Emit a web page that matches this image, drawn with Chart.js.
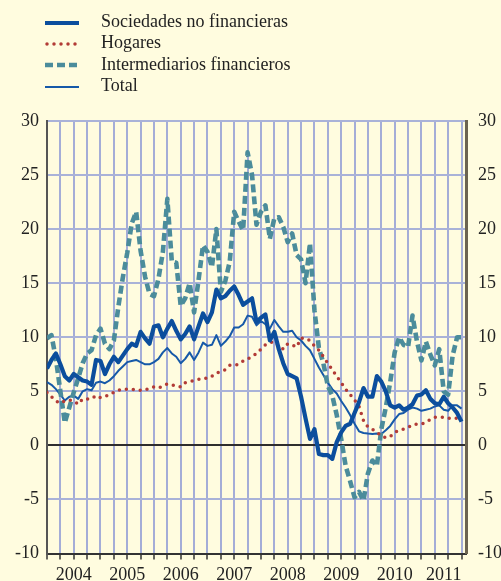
<!DOCTYPE html>
<html>
<head>
<meta charset="utf-8">
<script src="https://cdn.jsdelivr.net/npm/chart.js@4.4.1/dist/chart.umd.min.js"></script>
<style>
  html, body { margin: 0; padding: 0; background: #fffcdf; }
  #wrap { position: relative; width: 501px; height: 581px; overflow: hidden; }
  #chart { position: absolute; left: 0; top: 0; }
  #legend { position: absolute; left: 45px; top: 11px; font: 18px "Liberation Serif", serif; color: #222; }
  #legend div { height: 21.3px; line-height: 21.3px; white-space: nowrap; }
  #legend svg { vertical-align: middle; margin-right: 22px; }
</style>
</head>
<body>
<div id="wrap">
  <canvas id="chart" width="501" height="581"></canvas>
  <div id="legend"></div>
</div>
<script>
// Monthly series, Jan 2004 .. Oct 2011 (index 0 = Jan 2004)
const years = ["2004", "2005", "2006", "2007", "2008", "2009", "2010", "2011"];
const names = ["Sociedades no financieras", "Hogares", "Intermediarios financieros", "Total"];

const sociedades = [
  7.1, 7.9, 8.5, 7.5, 6.4, 6.0, 6.6, 6.3, 6.0, 5.9, 5.6, 7.9,
  7.8, 6.6, 7.5, 8.2, 7.7, 8.3, 8.9, 9.4, 9.2, 10.5, 9.9, 9.4,
  11.0, 11.1, 10.0, 10.8, 11.5, 10.6, 9.8, 10.3, 11.0, 9.8, 11.0, 12.2,
  11.4, 12.3, 14.4, 13.6, 13.8, 14.3, 14.7, 13.9, 13.0, 13.3, 13.6, 11.4,
  11.8, 12.1, 9.7, 10.5, 8.9, 7.6, 6.6, 6.4, 6.2, 4.5, 2.5, 0.6,
  1.5, -0.8, -0.9, -0.9, -1.25, 0.3, 1.2, 1.8, 2.0, 3.0, 4.0, 5.3,
  4.5, 4.5, 6.4, 5.9, 5.0, 3.7, 3.5, 3.7, 3.3, 3.5, 3.8, 4.6,
  4.7, 5.1, 4.3, 3.9, 3.8, 4.5, 3.9, 3.5, 3.0, 2.2
];
const hogares = [
  4.9, 4.5, 4.1, 3.9, 4.1, 4.2, 4.1, 3.8, 4.3, 4.3, 4.3, 4.6,
  4.4, 4.5, 4.7, 4.9, 5.1, 5.2, 5.2, 5.2, 5.1, 5.1, 5.1, 5.3,
  5.4, 5.3, 5.5, 5.7, 5.6, 5.5, 5.4, 5.8, 5.9, 6.0, 6.1, 6.2,
  6.2, 6.4, 6.7, 6.8, 7.0, 7.4, 7.4, 7.5, 7.8, 8.0, 8.2, 8.5,
  8.9, 9.3, 9.5, 9.6, 9.2, 8.9, 9.4, 9.3, 9.1, 9.9, 9.9, 9.7,
  9.2, 8.8, 8.2, 7.6, 7.0, 6.4, 5.8, 5.2, 4.7, 4.2, 3.6, 2.3,
  1.7, 1.5, 1.2, 0.9, 0.7, 0.8, 1.2, 1.4, 1.5, 1.7, 1.8, 2.0,
  2.0, 2.1, 2.4, 2.6, 2.6, 2.6, 2.5, 2.5, 2.5, 2.3
];
const intermediarios = [
  9.9, 10.2, 8.0, 5.0, 2.1, 3.5, 4.9, 6.2, 7.6, 8.5, 8.8, 10.2,
  10.8, 9.4, 8.9, 9.7, 12.8, 15.5, 17.8, 20.5, 21.6, 18.0, 15.6, 14.0,
  13.8, 15.4, 17.9, 22.8, 17.0, 16.9, 12.9, 13.6, 15.0, 12.3, 15.3, 18.5,
  17.9, 16.5, 20.0, 14.2, 15.2, 17.0, 21.6, 20.7, 19.9, 27.1, 25.0, 20.4,
  21.6, 22.2, 19.1, 21.0, 21.1, 20.2, 18.8, 19.6, 17.6, 17.2, 15.0, 18.7,
  12.5, 9.0, 7.6, 5.5, 4.6, 2.8, 0.6, -1.9, -3.3, -4.8, -4.3, -5.1,
  -2.6, -1.4, -1.9, 1.5, 3.5, 5.85, 8.6, 10.0, 9.3, 9.1, 12.0, 9.6,
  7.85, 9.6, 8.4, 7.4, 8.9, 5.0, 4.7, 8.3, 10.0, 10.0
];
const total = [
  5.85, 5.6, 5.2, 4.7, 4.15, 4.5, 4.6, 4.3, 5.0, 5.2, 5.1, 5.8,
  5.9, 5.75, 6.0, 6.4, 6.9, 7.3, 7.7, 7.8, 7.9, 7.7, 7.5, 7.5,
  7.7, 8.0, 8.6, 9.0, 8.5, 8.2, 7.6, 8.0, 8.6, 7.9, 8.6, 9.5,
  9.2, 9.3, 10.2, 9.2, 9.6, 10.1, 10.9, 10.9, 11.2, 12.0, 11.9, 11.1,
  11.5, 11.2, 10.8, 11.6, 11.0, 10.5, 10.5, 10.6, 10.0, 9.7, 9.2, 8.8,
  8.0, 7.2, 6.5, 5.8, 5.2, 4.8, 4.1, 3.5, 2.8, 2.0, 1.3, 1.15,
  1.1, 1.06, 1.1, 1.06, 1.4, 1.8, 2.4, 2.9, 3.0, 3.3, 3.5, 3.4,
  3.2, 3.3, 3.4, 3.6, 3.7, 3.3, 3.2, 3.7, 3.7, 3.4
];

const X_MAX = 94;
const pts = arr => arr.map((v, i) => ({ x: i, y: v }));

// year label sits in the middle of the visible part of each year
const yearTicks = years.map((y, k) => {
  const s = k * 12;
  return { value: (Math.max(s, 0) + Math.min(s + 12, X_MAX)) / 2, label: y };
});

const styles = [
  { color: "#0b4e9d", width: 4.2, dash: [], cap: "butt" },
  { color: "#b23b36", width: 3.5, dash: [0, 7], cap: "round" },
  { color: "#4b8c9b", width: 4.6, dash: [8, 4], cap: "butt" },
  { color: "#1659a8", width: 2, dash: [], cap: "butt" }
];
const series = [sociedades, hogares, intermediarios, total];

// HTML legend
const legend = document.getElementById("legend");
names.forEach((n, k) => {
  const s = styles[k];
  const row = document.createElement("div");
  row.innerHTML =
    '<svg width="34" height="8"><line x1="' + (s.cap === "round" ? 2 : 0) + '" y1="4" x2="34" y2="4" stroke="' + s.color +
    '" stroke-width="' + s.width + '" stroke-linecap="' + s.cap + '" stroke-dasharray="' + (s.dash.join(" ") || "none") + '"/></svg>' + n;
  legend.appendChild(row);
});

const font = { family: "Liberation Serif", size: 18 };

new Chart(document.getElementById("chart"), {
  type: "line",
  data: {
    datasets: series.map((d, k) => ({
      label: names[k],
      data: pts(d),
      borderColor: styles[k].color,
      borderWidth: styles[k].width,
      borderDash: styles[k].dash,
      borderCapStyle: styles[k].cap,
      borderJoinStyle: "round",
      pointRadius: 0,
      tension: 0,
      fill: false,
      xAxisID: "x",
      yAxisID: "y"
    }))
  },
  options: {
    responsive: false,
    animation: false,
    layout: { padding: { top: 121, bottom: 0, left: 0, right: 0 } },
    plugins: { legend: { display: false }, tooltip: { enabled: false } },
    scales: {
      x: {
        type: "linear", position: "bottom", min: 0, max: X_MAX,
        afterBuildTicks: s => { const t = []; for (let v = 0; v < X_MAX; v += 3) t.push({ value: v }); s.ticks = t; },
        afterFit: s => { s.height = 7; },
        ticks: { display: false },
        grid: { color: "#a4add7", lineWidth: 2, tickLength: 6, tickColor: "#333", tickWidth: 1.5 },
        border: { color: "#333", width: 2 }
      },
      xl: {
        type: "linear", position: "bottom", min: 0, max: X_MAX,
        afterBuildTicks: s => { s.ticks = yearTicks.map(t => ({ value: t.value })); },
        afterFit: s => { s.height = 20.5; },
        ticks: {
          autoSkip: false, maxRotation: 0, padding: -4, color: "#222", font,
          callback: v => { const t = yearTicks.find(t => t.value === v); return t ? t.label : ""; }
        },
        grid: { display: false },
        border: { display: false }
      },
      y: {
        position: "left", min: -10, max: 30,
        afterFit: s => { s.width = 47; },
        ticks: { stepSize: 5, color: "#222", font, padding: 8 },
        grid: {
          color: c => c.tick && c.tick.value === 0 ? "#2e2e2e" : "#a9b2d8",
          lineWidth: 2, drawTicks: false
        },
        border: { color: "#555", width: 2 }
      },
      y2: {
        position: "right", min: -10, max: 30,
        afterFit: s => { s.width = 35; },
        ticks: { stepSize: 5, color: "#222", font, padding: 12 },
        grid: { display: false, drawTicks: false },
        border: { color: "#6b6350", width: 3 }
      }
    }
  }
});
</script>
</body>
</html>
